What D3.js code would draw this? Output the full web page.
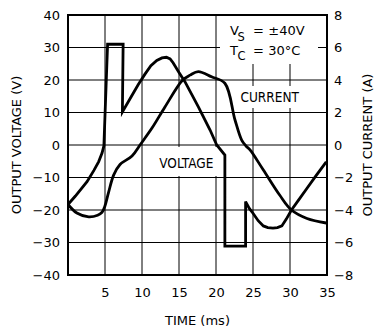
<!DOCTYPE html>
<html><head><meta charset="utf-8">
<script src="https://cdn.jsdelivr.net/npm/d3@7"></script>
<style>
html,body{margin:0;padding:0;background:#fff;}
svg{display:block;}
</style></head>
<body>
<svg id="chart" width="375" height="328"></svg>
<script>
// ---- data ----
const timeTicks = [5, 10, 15, 20, 25, 30, 35];
const voltTicks = [-40, -30, -20, -10, 0, 10, 20, 30, 40];
const currTicks = [-8, -6, -4, -2, 0, 2, 4, 6, 8];
const gridTimes = [5, 10, 15, 20, 25, 30];
const gridVolts = [-30, -20, -10, 0, 10, 20, 30];

// output voltage (V) vs time (ms)
const voltTime = [0, 1, 2.57, 3.5, 4.15, 4.6, 4.85, 5.35, 7.45, 7.35, 8.5, 9.5, 10.4, 11.2, 12, 12.7, 13.3, 13.8, 14.2, 15, 15.8, 17.6, 19.2, 20.1, 21.2, 21.2, 24.0, 24.0, 24.5, 25.0, 25.7, 26.4, 27.0, 27.7, 28.3, 28.9, 29.5, 30.2, 31.2, 32.3, 33.5, 34.9];
const voltage  = [-18.3, -15.7, -11.3, -7.8, -5.1, -2.5, -0.3, 31, 31, 10.2, 14.7, 18.6, 21.8, 24.4, 26, 26.8, 27, 26.5, 25.3, 22.3, 19.5, 11.8, 4.6, 0, -3.1, -31.1, -31.1, -17.4, -19.5, -21, -23.3, -24.9, -25.4, -25.6, -25.4, -24.9, -22.8, -20, -16.8, -13.3, -9.5, -5.2];

// output current (A) vs time (ms)
const currTime = [0, 1.2, 2.8, 4.0, 4.6, 4.96, 5.5, 6.18, 7.03, 8.65, 9.73, 11.35, 13.1, 15.5, 16.5, 17.6, 19.4, 21.2, 22.57, 23.47, 24.05, 24.6, 26.4, 28.6, 30.2, 32.3, 34.9];
const current  = [-3.66, -4.18, -4.42, -4.32, -4.14, -3.8, -2.88, -1.84, -1.2, -0.68, 0, 1.04, 2.34, 4.0, 4.3, 4.52, 4.2, 3.8, 1.54, 0.3, -0.06, -0.3, -1.54, -3.08, -4.0, -4.52, -4.8];

// ---- layout ----
const L = 68, R = 327, T = 15, B = 275;
const svg = d3.select("#chart");
const x = d3.scaleLinear().domain([0, 35]).range([L, R]);
const yV = d3.scaleLinear().domain([-40, 40]).range([B, T]);
const yI = d3.scaleLinear().domain([-8, 8]).range([B, T]);
const FONT = "DejaVu Sans";

// grid
const grid = svg.append("g").attr("stroke", "#000").attr("stroke-width", 1);
grid.selectAll("line.v").data(gridTimes).join("line").attr("class", "v")
  .attr("x1", d => x(d)).attr("x2", d => x(d)).attr("y1", T).attr("y2", B);
grid.selectAll("line.h").data(gridVolts).join("line").attr("class", "h")
  .attr("x1", L).attr("x2", R).attr("y1", d => yV(d)).attr("y2", d => yV(d));

// white label boxes
const boxes = [
  {x0: 220, y0: 16, x1: 318, y1: 64},
  {x0: 236, y0: 86, x1: 303, y1: 108},
  {x0: 150, y0: 147, x1: 219, y1: 176}
];
svg.append("g").selectAll("rect").data(boxes).join("rect")
  .attr("x", d => d.x0).attr("y", d => d.y0)
  .attr("width", d => d.x1 - d.x0).attr("height", d => d.y1 - d.y0)
  .attr("fill", "#fff");

// axes (labels only)
function styleAxis(g) {
  g.select(".domain").remove();
  g.selectAll(".tick line").remove();
  g.attr("font-family", FONT).attr("font-size", 13);
  g.selectAll("text").attr("fill", "#000");
}
svg.append("g").attr("transform", `translate(${L},0)`)
  .call(d3.axisLeft(yV).tickValues(voltTicks).tickSize(0).tickPadding(8))
  .call(styleAxis);
svg.append("g").attr("transform", `translate(${R},0)`)
  .call(d3.axisRight(yI).tickValues(currTicks).tickSize(0).tickPadding(7))
  .call(styleAxis);
svg.append("g").attr("transform", `translate(0,${B})`)
  .call(d3.axisBottom(x).tickValues(timeTicks).tickSize(0).tickPadding(13))
  .call(styleAxis);

// axis titles
svg.append("text").attr("transform", `translate(21,${(T + B) / 2}) rotate(-90)`)
  .attr("text-anchor", "middle").attr("font-family", FONT).attr("font-size", 13)
  .text("OUTPUT VOLTAGE (V)");
svg.append("text").attr("transform", `translate(371.5,${(T + B) / 2}) rotate(-90)`)
  .attr("text-anchor", "middle").attr("font-family", FONT).attr("font-size", 13)
  .text("OUTPUT CURRENT (A)");
svg.append("text").attr("x", (L + R) / 2).attr("y", 325)
  .attr("text-anchor", "middle").attr("font-family", FONT).attr("font-size", 13)
  .text("TIME (ms)");

// conditions box text
const cond = svg.append("g").attr("font-family", FONT).attr("font-size", 13);
cond.append("text").attr("x", 230).attr("y", 34.7).text("V");
cond.append("text").attr("x", 237.5).attr("y", 40.7).attr("font-size", 11.5).text("S");
cond.append("text").attr("x", 253).attr("y", 34.7).text("=");
cond.append("text").attr("x", 268.3).attr("y", 34.7).text("±40V");
cond.append("text").attr("x", 230).attr("y", 54.7).text("T");
cond.append("text").attr("x", 237.5).attr("y", 60.2).attr("font-size", 11.5).text("C");
cond.append("text").attr("x", 253).attr("y", 54.7).text("=");
cond.append("text").attr("x", 268.3).attr("y", 54.7).text("30°C");

// curve labels
svg.append("text").attr("x", 186.3).attr("y", 168.2).attr("text-anchor", "middle")
  .attr("font-family", "DejaVu Sans Condensed").attr("font-size", 13.5).text("VOLTAGE");
svg.append("text").attr("x", 269.7).attr("y", 101.6).attr("text-anchor", "middle")
  .attr("font-family", "DejaVu Sans Condensed").attr("font-size", 13.5).text("CURRENT");

// curves
const vPts = voltTime.map((t, i) => [t, voltage[i]]);
const iPts = currTime.map((t, i) => [t, current[i]]);
const lineV = d3.line().x(d => x(d[0])).y(d => yV(d[1])).curve(d3.curveLinear);
const lineI = d3.line().x(d => x(d[0])).y(d => yI(d[1])).curve(d3.curveCatmullRom.alpha(0.5));
svg.append("path").datum(vPts).attr("d", lineV)
  .attr("fill", "none").attr("stroke", "#000").attr("stroke-width", 2.8)
  .attr("stroke-linejoin", "miter");
svg.append("path").datum(iPts).attr("d", lineI)
  .attr("fill", "none").attr("stroke", "#000").attr("stroke-width", 2.8)
  .attr("stroke-linejoin", "round");

// frame
svg.append("rect").attr("x", L).attr("y", T).attr("width", R - L).attr("height", B - T)
  .attr("fill", "none").attr("stroke", "#000").attr("stroke-width", 2);
</script>
</body></html>
